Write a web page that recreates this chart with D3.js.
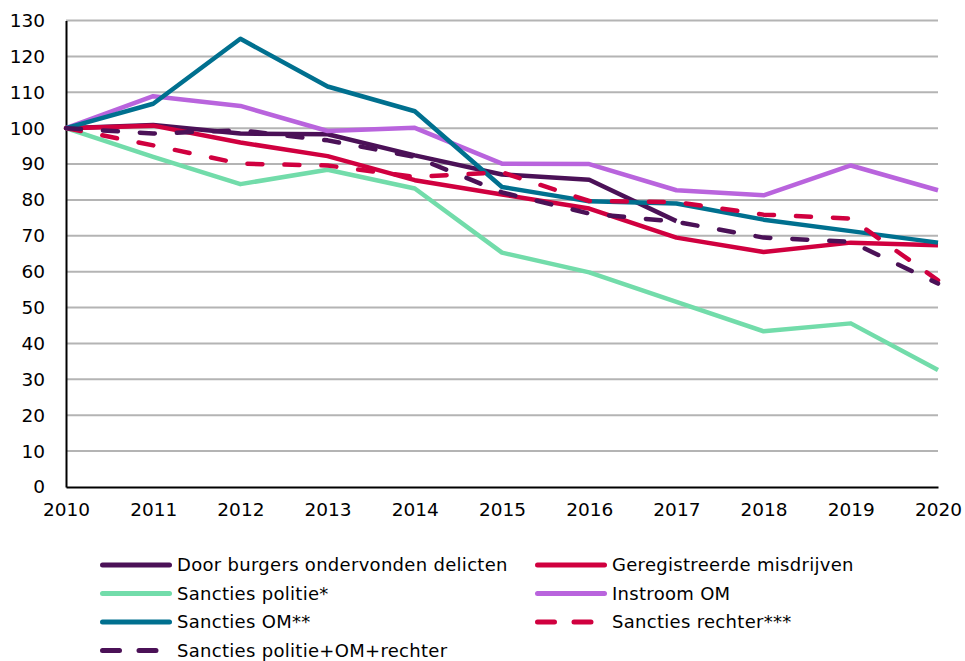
<!DOCTYPE html>
<html>
<head>
<meta charset="utf-8">
<script src="https://cdn.jsdelivr.net/npm/d3@7"></script>
<style>
  body { margin: 0; background: #fff; }
  svg { font-family: "DejaVu Sans", Verdana, sans-serif; }
</style>
</head>
<body>
<svg id="chart" width="965" height="661"></svg>
<script>
// jaren en reeksen (index 2010 = 100)
const jaren = [2010, 2011, 2012, 2013, 2014, 2015, 2016, 2017, 2018, 2019, 2020];
const yTicks = [0, 10, 20, 30, 40, 50, 60, 70, 80, 90, 100, 110, 120, 130];

const doorBurgers = [100, 100.9, 98.5, 98.3, 92.4, 87.1, 85.6, 74.1, null, null, null];
const geregistreerd = [100, 100.7, 96.0, 92.2, 85.5, 81.5, 77.6, 69.5, 65.5, 68.1, 67.4];
const sanctiesPolitie = [100, 92.0, 84.4, 88.4, 83.2, 65.3, 59.8, 51.6, 43.4, 45.6, 32.6];
const instroomOM = [100, 108.9, 106.2, 99.2, 100.1, 90.1, 90.0, 82.7, 81.3, 89.6, 82.7];
const sanctiesOM = [100, 106.8, 124.9, 111.6, 104.7, 83.6, 79.6, 79.0, 74.5, 71.3, 68.1];
const sanctiesRechter = [100, 95.2, 90.1, 89.6, 86.4, 87.7, 79.7, 79.4, 75.9, 74.8, 57.6];
const sanctiesTotaal = [100, 98.5, 99.4, 96.6, 92.0, 82.1, 76.2, 73.9, 69.5, 68.3, 56.7];

const reeksen = [
  { naam: 'Door burgers ondervonden delicten', waarden: doorBurgers, kleur: '#4b1157', dash: false },
  { naam: 'Geregistreerde misdrijven', waarden: geregistreerd, kleur: '#d0003f', dash: false },
  { naam: 'Sancties politie*', waarden: sanctiesPolitie, kleur: '#72dcaa', dash: false },
  { naam: 'Instroom OM', waarden: instroomOM, kleur: '#b964dd', dash: false },
  { naam: 'Sancties OM**', waarden: sanctiesOM, kleur: '#00708f', dash: false },
  { naam: 'Sancties rechter***', waarden: sanctiesRechter, kleur: '#d0003f', dash: true },
  { naam: 'Sancties politie+OM+rechter', waarden: sanctiesTotaal, kleur: '#4b1157', dash: true }
];

const svg = d3.select('#chart');
const mLeft = 66, mRight = 938, mTop = 20.5, mBottom = 487;

const x = d3.scaleLinear().domain([2010, 2020]).range([mLeft, mRight]);
const y = d3.scaleLinear().domain([0, 130]).range([mBottom, mTop]);

// rasterlijnen
svg.append('g')
  .selectAll('line')
  .data(yTicks.filter(d => d > 0))
  .enter()
  .append('line')
  .attr('x1', mLeft)
  .attr('x2', mRight)
  .attr('y1', d => y(d))
  .attr('y2', d => y(d))
  .attr('stroke', '#b4b4b4')
  .attr('stroke-width', 2);

// assen
const yAxis = d3.axisLeft(y).tickValues(yTicks).tickSize(0).tickPadding(21);
const gy = svg.append('g').attr('transform', `translate(${mLeft},0)`).call(yAxis);
gy.select('.domain').attr('stroke', '#000').attr('stroke-width', 2);
gy.selectAll('text').attr('font-size', 18.5).attr('fill', '#000');
gy.attr('font-family', null);

const xAxis = d3.axisBottom(x).tickValues(jaren).tickFormat(d3.format('d')).tickSize(0).tickPadding(16);
const gx = svg.append('g').attr('transform', `translate(0,${mBottom})`).call(xAxis);
gx.select('.domain').attr('stroke', '#000').attr('stroke-width', 2);
gx.selectAll('text').attr('font-size', 18.5).attr('fill', '#000');
gx.attr('font-family', null);

// lijnen
const line = d3.line()
  .defined(d => d != null)
  .x((d, i) => x(jaren[i]))
  .y(d => y(d));

svg.append('g')
  .selectAll('path')
  .data(reeksen)
  .enter()
  .append('path')
  .attr('d', d => line(d.waarden))
  .attr('fill', 'none')
  .attr('stroke', d => d.kleur)
  .attr('stroke-width', 4.5)
  .attr('stroke-linejoin', 'round')
  .attr('stroke-linecap', d => (d.dash ? 'round' : 'butt'))
  .attr('stroke-dasharray', d => (d.dash ? '15,22' : null));

// legenda
const kolX = [100, 535];
const rijY = [565, 593.5, 622, 650.5];
const legenda = svg.append('g')
  .selectAll('g')
  .data(reeksen)
  .enter()
  .append('g')
  .attr('transform', (d, i) => `translate(${kolX[i % 2]},${rijY[Math.floor(i / 2)]})`);

legenda.append('line')
  .attr('x1', 2.5)
  .attr('x2', 69.5)
  .attr('stroke', d => d.kleur)
  .attr('stroke-width', 5)
  .attr('stroke-linecap', 'round')
  .attr('stroke-dasharray', d => (d.dash ? '17,19.5' : null));

legenda.append('text')
  .attr('x', 77)
  .attr('dy', '0.35em')
  .attr('font-size', 18)
  .attr('letter-spacing', 0.3)
  .attr('fill', '#000')
  .text(d => d.naam);
</script>
</body>
</html>
